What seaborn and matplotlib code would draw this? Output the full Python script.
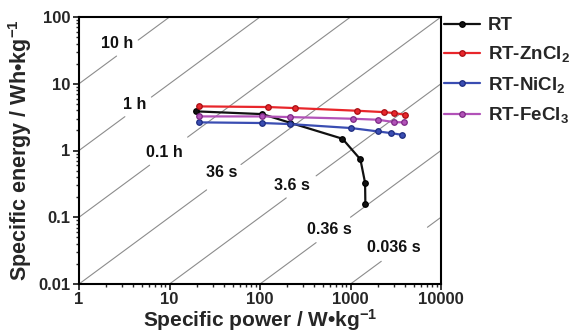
import numpy as np
import pandas as pd
import matplotlib
matplotlib.use("Agg")
import matplotlib.pyplot as plt
import matplotlib.ticker as mticker
import seaborn as sns

# ---- data ----
series_names = ["RT", "RT-ZnCl$_2$", "RT-NiCl$_2$", "RT-FeCl$_3$"]
series_colors = ["#111111", "#e8262b", "#3a4db2", "#b252b8"]
edge_colors = ["#000000", "#a81015", "#1f2d80", "#7d2a85"]

rt_power = [19.5, 106, 212, 815, 1286, 1449, 1460]
rt_energy = [3.86, 3.51, 2.62, 1.50, 0.736, 0.328, 0.156]

zn_power = [21.2, 122, 243, 1183, 2323, 3048, 4000]
zn_energy = [4.58, 4.48, 4.32, 3.94, 3.76, 3.64, 3.43]

ni_power = [21.2, 106, 212, 1016, 2015, 2825, 3670]
ni_energy = [2.64, 2.58, 2.49, 2.17, 1.93, 1.82, 1.72]

fe_power = [21.2, 106, 212, 1057, 2015, 3048, 3930]
fe_energy = [3.24, 3.24, 3.17, 2.99, 2.89, 2.66, 2.64]

# constant discharge time lines (hours) and their labels
time_hours = [10, 1, 0.1, 0.01, 0.001, 1e-4, 1e-5]
time_labels = ["10 h", "1 h", "0.1 h", "36 s", "3.6 s", "0.36 s", "0.036 s"]
# gaps in the lines (log10 of power) and label centres (log10 P, log10 E)
gap_logp = [(0.415, 0.654), (0.507, 0.80), (0.78, 1.20), (1.41, 1.79),
            (2.29, 2.62), (2.62, 3.00), (3.34, 3.85)]
label_pos = [(0.416, 1.60), (0.617, 0.691), (0.948, -0.024), (1.577, -0.324),
             (2.348, -0.519), (2.767, -1.19), (3.484, -1.46)]

x_ticks = [1, 10, 100, 1000, 10000]
y_ticks = [0.01, 0.1, 1, 10, 100]

df = pd.concat([
    pd.DataFrame({"P": p, "E": e, "sample": n})
    for p, e, n in [(rt_power, rt_energy, series_names[0]),
                    (zn_power, zn_energy, series_names[1]),
                    (ni_power, ni_energy, series_names[2]),
                    (fe_power, fe_energy, series_names[3])]
], ignore_index=True)

# ---- style ----
sns.set_style("ticks")
plt.rcParams["font.family"] = ["Liberation Sans", "DejaVu Sans"]
plt.rcParams["font.weight"] = "bold"
plt.rcParams["mathtext.fontset"] = "custom"
plt.rcParams["mathtext.rm"] = "Liberation Sans:bold"
plt.rcParams["mathtext.it"] = "Liberation Sans:bold"
plt.rcParams["mathtext.bf"] = "Liberation Sans:bold"
plt.rcParams["mathtext.default"] = "bf"

fig = plt.figure(figsize=(5.76, 3.35), dpi=100)
ax = fig.add_axes([79 / 576, 1 - 284 / 335, (441 - 79) / 576, (284 - 17) / 335])

# diagonal time lines
for t, (g0, g1) in zip(time_hours, gap_logp):
    for a, b in [(0.0, g0), (g1, 4.0)]:
        lp = np.linspace(a, b, 50)
        p = 10 ** lp
        ax.plot(p, p * t, color="#8c8c8c", lw=0.8, zorder=1)
for lab, (lx, ly) in zip(time_labels, label_pos):
    ax.text(10 ** lx, 10 ** ly, lab, ha="center", va="center",
            fontsize=11.5, fontweight="bold", color="#111111", zorder=2)

for name, c, ec in zip(series_names, series_colors, edge_colors):
    sub = df[df["sample"] == name]
    sns.lineplot(data=sub, x="P", y="E", ax=ax, color=c, marker="o",
                 markersize=5.5, linewidth=1.6, markeredgecolor=ec,
                 markeredgewidth=0.9, estimator=None, sort=False,
                 label=name, zorder=3)

ax.set_xscale("log")
ax.set_yscale("log")
ax.set_xlim(1, 10000)
ax.set_ylim(0.01, 100)
ax.set_xticks(x_ticks)
ax.set_yticks(y_ticks)
ax.xaxis.set_major_formatter(mticker.FuncFormatter(lambda v, _: f"{v:g}"))
ax.yaxis.set_major_formatter(mticker.FuncFormatter(lambda v, _: f"{v:g}"))
ax.xaxis.set_minor_locator(mticker.LogLocator(base=10, subs=np.arange(2, 10)))
ax.yaxis.set_minor_locator(mticker.LogLocator(base=10, subs=np.arange(2, 10)))
ax.tick_params(which="major", direction="out", length=4.5, width=1.3,
               labelsize=12, pad=1.5)
ax.tick_params(which="minor", direction="out", length=2.5, width=1.0)
for s in ax.spines.values():
    s.set_linewidth(1.5)
    s.set_color("black")
for lbl in ax.get_xticklabels() + ax.get_yticklabels():
    lbl.set_fontweight("bold")

ax.set_xlabel("Specific power / W\u2022kg$^{-1}$", fontsize=15,
              fontweight="bold", labelpad=0)
ax.set_ylabel("Specific energy / Wh\u2022kg$^{-1}$", fontsize=15.5,
              fontweight="bold", labelpad=3)

ax.get_legend().remove()
handles, labels = ax.get_legend_handles_labels()
for h in handles:
    h.set_markersize(4)
fig.legend(handles, labels, loc="upper left",
           bbox_to_anchor=(444 / 576, 1 - 17 / 335), frameon=False,
           handlelength=1.9, handletextpad=0.45,
           borderpad=0, borderaxespad=0, labelspacing=0.55,
           prop={"weight": "bold", "size": 13.5})

fig.savefig("out.png", dpi=100)
